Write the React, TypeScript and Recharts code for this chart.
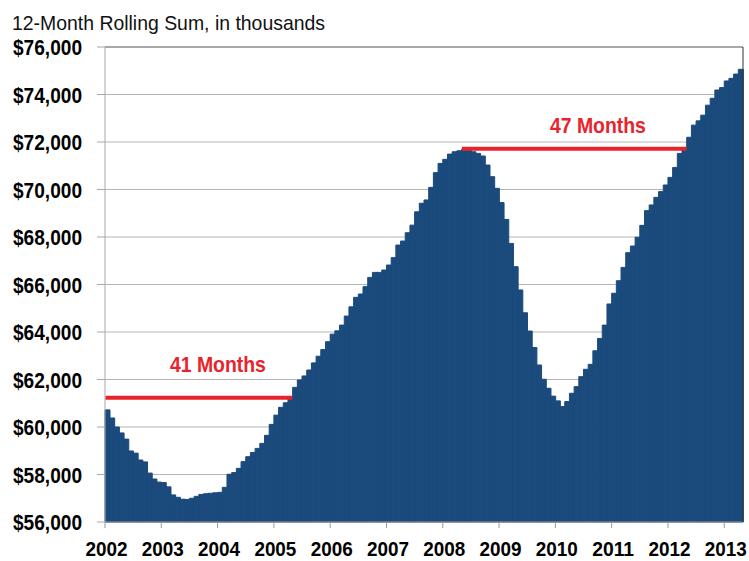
import React from 'react';
import {
  ComposedChart, Bar, Line, XAxis, YAxis, CartesianGrid, ReferenceLine, ReferenceDot
} from 'recharts';

const FONT = '"Liberation Sans Narrow", "Arial Narrow", "Liberation Sans", Arial, sans-serif';
const NAVY = '#1B4A7C';
const RED = '#E8232B';

const W = 749;
const H = 561;
const PLOT_LEFT = 105;
const PLOT_RIGHT = 6;

// 12-month rolling sum (thousands), one value per month
const y2002 = [60720, 60380, 60000, 59750, 59490, 58990, 58900, 58610, 58530, 58060, 57810, 57680];
const y2003 = [57660, 57480, 57140, 57040, 56960, 56950, 57000, 57080, 57160, 57190, 57210, 57230];
const y2004 = [57250, 57460, 58010, 58080, 58260, 58540, 58750, 58930, 59100, 59310, 59650, 60110];
const y2005 = [60500, 60830, 61020, 61280, 61670, 61980, 62150, 62400, 62700, 62980, 63260, 63590];
const y2006 = [63910, 64050, 64290, 64670, 65060, 65460, 65600, 65910, 66300, 66510, 66510, 66610];
const y2007 = [66820, 67130, 67660, 67830, 68180, 68500, 69060, 69420, 69560, 70090, 70710, 71100];
const y2008 = [71270, 71490, 71590, 71630, 71690, 71660, 71590, 71520, 71410, 71030, 70540, 70050];
const y2009 = [69450, 68740, 67730, 66750, 65770, 64810, 64040, 63350, 62610, 62010, 61630, 61300];
const y2010 = [61100, 60860, 61070, 61420, 61700, 62120, 62430, 62640, 63210, 63730, 64290, 65180];
const y2011 = [65630, 66160, 66720, 67340, 67620, 67990, 68490, 69110, 69350, 69670, 69910, 70190];
const y2012 = [70510, 70930, 71520, 71660, 72200, 72710, 72890, 73130, 73550, 73840, 74190, 74290];
const y2013 = [74570, 74680, 74860, 75060];

const sums = [
  ...y2002, ...y2003, ...y2004, ...y2005, ...y2006, ...y2007,
  ...y2008, ...y2009, ...y2010, ...y2011, ...y2012, ...y2013,
];

const START_YEAR = 2002;
const months = sums.map(
  (_, i) => `${START_YEAR + Math.floor(i / 12)}-${String((i % 12) + 1).padStart(2, '0')}`
);

const yTicks = [56000, 58000, 60000, 62000, 64000, 66000, 68000, 70000, 72000, 74000, 76000];

// recovery gaps: months between the old level and getting back to it
const gapA = { label: '41 Months', level: 61230, from: 0, to: 39, labelAt: 24 };
const gapB = { label: '47 Months', level: 71720, from: 76, to: 123, labelAt: 105 };

const data = months.map((m, i) => ({
  month: m,
  sum: sums[i],
  gapA: i >= gapA.from && i <= gapA.to ? gapA.level : null,
  gapB: i >= gapB.from && i <= gapB.to ? gapB.level : null,
}));

const BAND = (W - PLOT_LEFT - PLOT_RIGHT) / sums.length;

const fmtMoney = (v: number) => `$${v.toLocaleString('en-US')}`;

// no narrow face installed, so squeeze the bold sans to the original widths
const XTick = (props: any) => {
  const { x, y, payload } = props;
  const x0 = x - BAND / 2;
  return (
    <g>
      <line x1={x0} x2={x0} y1={y} y2={y + 6} stroke="#9a9a9a" />
      <text x={x0 + 1.5} y={y + 34} textAnchor="middle" fontFamily={FONT}
        fontWeight="bold" fontSize={21} fill="#000" textLength={42} lengthAdjust="spacingAndGlyphs">
        {String(payload.value).slice(0, 4)}
      </text>
    </g>
  );
};

const YTick = (props: any) => {
  const { x, y, payload } = props;
  return (
    <text x={x} y={y + 8} textAnchor="end" fontFamily={FONT}
      fontWeight="bold" fontSize={22} fill="#000" textLength={69} lengthAdjust="spacingAndGlyphs">
      {fmtMoney(payload.value)}
    </text>
  );
};

const gapLabel = (text: string, lift: number) => (p: any) => (
  <text x={p.cx - 2} y={p.cy - lift} textAnchor="middle" fontFamily={FONT}
    fontWeight="bold" fontSize={22} fill={RED} textLength={96} lengthAdjust="spacingAndGlyphs">
    {text}
  </text>
);

export default function App() {
  return (
    <div style={{ position: 'fixed', left: 0, top: 0, width: W, height: H, background: '#fff' }}>
      <ComposedChart width={W} height={H} data={data} barCategoryGap={0}
        margin={{ top: 47, right: PLOT_RIGHT - 1, bottom: 0, left: 0 }}>
        <CartesianGrid vertical={false} stroke="#b4b4b4" />
        <XAxis dataKey="month" interval={11} height={39} tickLine={false}
          tickSize={0} tickMargin={0} axisLine={{ stroke: '#9a9a9a' }} tick={<XTick />} />
        <YAxis domain={[56000, 76000]} ticks={yTicks} interval={0} width={PLOT_LEFT}
          tickSize={8} tickMargin={15} tickLine={{ stroke: '#a8a8a8' }}
          axisLine={{ stroke: '#a8a8a8' }} tick={<YTick />} />
        <YAxis yAxisId="right" orientation="right" domain={[56000, 76000]} width={1}
          tick={false} tickLine={false} axisLine={{ stroke: '#333' }} />
        <Bar dataKey="sum" fill={NAVY} stroke={NAVY} strokeWidth={1} isAnimationActive={false} />
        <ReferenceLine y={76000} stroke="#777" />
        <Line dataKey="gapA" stroke={RED} strokeWidth={4} strokeLinecap="square" dot={false}
          activeDot={false} connectNulls={false} isAnimationActive={false} />
        <Line dataKey="gapB" stroke={RED} strokeWidth={4} strokeLinecap="square" dot={false}
          activeDot={false} connectNulls={false} isAnimationActive={false} />
        <ReferenceDot x={months[gapA.labelAt]} y={gapA.level} shape={gapLabel(gapA.label, 26)} />
        <ReferenceDot x={months[gapB.labelAt]} y={gapB.level} shape={gapLabel(gapB.label, 16)} />
      </ComposedChart>
      <svg width={W} height={40} style={{ position: 'absolute', left: 0, top: 0 }}>
        <text x={12} y={30} fontFamily={FONT} fontSize={21} fill="#111"
          textLength={313} lengthAdjust="spacingAndGlyphs">
          12-Month Rolling Sum, in thousands
        </text>
      </svg>
    </div>
  );
}
